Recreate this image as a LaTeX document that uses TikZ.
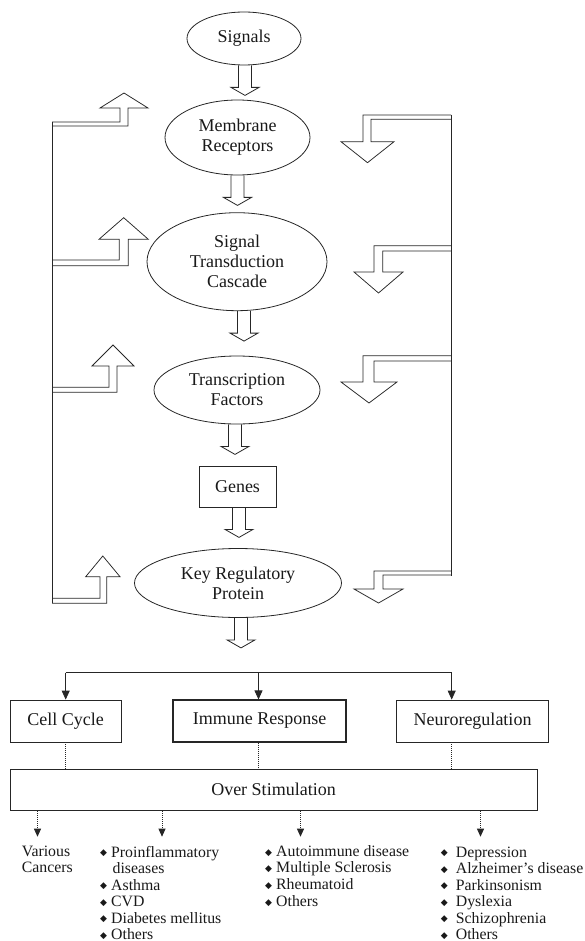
\documentclass[tikz,border=0pt]{standalone}
\usepackage{fontspec}
\setmainfont{Liberation Serif}
\newfontfamily\symfont{DejaVu Sans}
\usetikzlibrary{shapes.geometric,arrows.meta,calc}

% small black diamond used as list bullet
\newcommand\bul{{\symfont\fontsize{9}{9}\selectfont\raisebox{1.2pt}{◆}}}

% hollow block arrow pointing down from the bottom of a node
\newcommand\hollowdown[2][0]{%
  \draw[blockline] ($(#2.south)+(#1-6.5,0)$) -- ++(0,22) -- ++(-7.5,0)
    -- ++(14,8) -- ++(14,-8) -- ++(-7.5,0) -- ++(0,-22);}

\tikzset{
  ink/.style={draw=black!85, line width=0.8pt},
  oval/.style={ellipse, ink, inner sep=0pt, align=center,
    font=\fontsize{18}{20}\selectfont, text=black!90},
  rbox/.style={rectangle, ink, inner sep=0pt, align=center,
    font=\fontsize{18}{20}\selectfont, text=black!90},
  blockline/.style={ink, line join=miter},
  bentarrow/.style={draw=black!85, line width=0.75pt, line join=miter},
  branch/.style={ink, -{Triangle[length=9pt,width=8pt]}},
  dotline/.style={draw=black!85, line width=0.8pt, dash pattern=on 0.8pt off 1.2pt},
  dotarrow/.style={dotline, -{Triangle[length=8pt,width=7pt]}},
  listtxt/.style={anchor=base west, inner sep=0pt,
    font=\fontsize{15.8}{16.5}\selectfont, text=black!90},
}

\begin{document}
\begin{tikzpicture}[x=1pt, y=-1pt]
\useasboundingbox (0,0) rectangle (585,941);

% main signalling chain
\node[oval, minimum width=114pt, minimum height=53pt] (sig) at (244,38.5) {Signals};
\node[oval, minimum width=145pt, minimum height=75pt] (mem) at (237.5,137.5) {Membrane\\Receptors};
\node[oval, minimum width=180pt, minimum height=98pt] (stc) at (237,261.7) {Signal\\Transduction\\Cascade};
\node[oval, minimum width=166pt, minimum height=68pt] (tf) at (237,390) {Transcription\\Factors};
\node[rbox, minimum width=77pt, minimum height=41pt] (gen) at (237.5,486.5) {Genes};
\node[oval, minimum width=207pt, minimum height=69pt] (krp) at (238,583) {Key Regulatory\\Protein};

\hollowdown[1]{sig}
\hollowdown{mem}
\hollowdown[7]{stc}
\hollowdown[-2]{tf}
\hollowdown[1.5]{gen}
\hollowdown[3]{krp}

% left feedback rail with upward bent arrows
\coordinate (ltop) at (52,122);
\coordinate (lbot) at (52,603.3);
\draw[ink] (ltop) -- (lbot);
\draw[bentarrow] (52,122) -- (120,122) -- (120,108) -- (100,108) -- (124,93)
  -- (148,108) -- (128,108) -- (128,126) -- (52,126);
\draw[bentarrow] (52,260) -- (119.3,260) -- (119.3,239.3) -- (99,239.3) -- (123.7,217.7)
  -- (148.3,239.3) -- (128.3,239.3) -- (128.3,265.7) -- (52,265.7);
\draw[bentarrow] (52,387.3) -- (109,387.3) -- (109,366) -- (92,366) -- (113,345)
  -- (134,366) -- (117,366) -- (117,392.3) -- (52,392.3);
\draw[bentarrow] (52,598.3) -- (100,598.3) -- (100,576.7) -- (85.7,576.7) -- (102.8,556)
  -- (120,576.7) -- (106.7,576.7) -- (106.7,603.3) -- (52,603.3);

% right feedback rail with downward bent arrows
\coordinate (rtop) at (451,115);
\coordinate (rbot) at (451,576);
\draw[ink] (rtop) -- (rbot);
\draw[bentarrow] (451,115) -- (363,115) -- (363,141.7) -- (341,141.7) -- (367.5,162.7)
  -- (394,141.7) -- (371,141.7) -- (371,119.3) -- (451,119.3);
\draw[bentarrow] (451,245.7) -- (374,245.7) -- (374,272) -- (354,272) -- (378.5,293)
  -- (403,272) -- (382.7,272) -- (382.7,251) -- (451,251);
\draw[bentarrow] (451,355.7) -- (363,355.7) -- (363,382) -- (341,382) -- (369,403)
  -- (397,382) -- (374,382) -- (374,361) -- (451,361);
\draw[bentarrow] (451,571) -- (374,571) -- (374,589) -- (354,589) -- (378.5,603)
  -- (403,589) -- (383,589) -- (383,575) -- (451,575);

% downstream processes
\node[rbox, minimum width=111pt, minimum height=42pt] (cc) at (65.5,721) {Cell Cycle};
\node[rbox, line width=1.1pt, minimum width=173pt, minimum height=42pt] (ir) at (259.5,721) {Immune Response};
\node[rbox, minimum width=152pt, minimum height=42pt] (nr) at (472.5,721) {Neuroregulation};

\coordinate (bl) at (65.7,672.7);
\coordinate (bm) at (258.5,672.7);
\coordinate (br) at (451.7,672.7);
\draw[ink] (bl) -- (br);
\draw[branch] (bl) -- (bl |- cc.north);
\draw[branch] (bm) -- (bm |- ir.north);
\draw[branch] (br) -- (br |- nr.north);

\node[rbox, minimum width=527pt, minimum height=41.7pt] (os) at (273.5,789.8) {Over Stimulation};
\draw[dotline] (bl |- cc.south) -- (bl |- os.north);
\draw[dotline] (bm |- ir.south) -- (bm |- os.north);
\draw[dotline] (br |- nr.south) -- (br |- os.north);

\foreach \x [count=\i] in {37.5,162,300.5,480.5} {
  \coordinate (d\i) at (\x,836.7);
  \draw[dotarrow] (d\i |- os.south) -- (d\i);
}

% disease lists
\node[listtxt] (va) at (21.7,856.3) {Various};
\node[listtxt] (ca) at (21.7,872.0) {Cancers};

\node[listtxt] (p1) at (100,857) {\makebox[11pt][l]{\bul}Proinflammatory};
\node[listtxt] (p2) at (100,873.5) {\hspace{12.5pt}diseases};
\node[listtxt] (p3) at (100,890) {\makebox[11pt][l]{\bul}Asthma};
\node[listtxt] (p4) at (100,906.5) {\makebox[11pt][l]{\bul}CVD};
\node[listtxt] (p5) at (100,923) {\makebox[11pt][l]{\bul}Diabetes mellitus};
\node[listtxt] (p6) at (100,939.3) {\makebox[11pt][l]{\bul}Others};

\node[listtxt] (a1) at (265,856.3) {\makebox[11pt][l]{\bul}Autoimmune disease};
\node[listtxt] (a2) at (265,872.5) {\makebox[11pt][l]{\bul}Multiple Sclerosis};
\node[listtxt] (a3) at (265,889.5) {\makebox[11pt][l]{\bul}Rheumatoid};
\node[listtxt] (a4) at (265,906.5) {\makebox[11pt][l]{\bul}Others};

\node[listtxt] (n1) at (440.7,857) {\makebox[15pt][l]{\bul}Depression};
\node[listtxt] (n2) at (440.7,873.5) {\makebox[15pt][l]{\bul}Alzheimer’s disease};
\node[listtxt] (n3) at (440.7,890) {\makebox[15pt][l]{\bul}Parkinsonism};
\node[listtxt] (n4) at (440.7,906.5) {\makebox[15pt][l]{\bul}Dyslexia};
\node[listtxt] (n5) at (440.7,923) {\makebox[15pt][l]{\bul}Schizophrenia};
\node[listtxt] (n6) at (440.7,939.3) {\makebox[15pt][l]{\bul}Others};
\end{tikzpicture}
\end{document}
